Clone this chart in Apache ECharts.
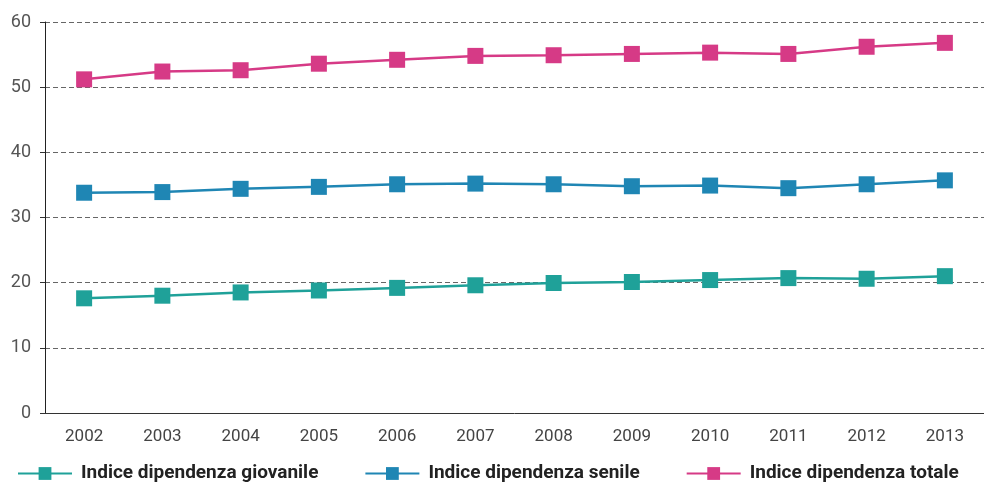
<!DOCTYPE html>
<html>
<head>
<meta charset="utf-8">
<script src="https://cdn.jsdelivr.net/npm/echarts@6/dist/echarts.min.js"></script>
<style>
  html, body { margin: 0; padding: 0; background: #fff; }
  #chart { width: 984px; height: 483px; }
</style>
</head>
<body>
<div id="chart"></div>
<script>
const years = ['2002', '2003', '2004', '2005', '2006', '2007', '2008', '2009', '2010', '2011', '2012', '2013']
const giovanile = [17.6, 18.0, 18.5, 18.8, 19.2, 19.6, 19.95, 20.1, 20.4, 20.7, 20.6, 21.0]
const senile = [33.8, 33.9, 34.4, 34.7, 35.1, 35.2, 35.1, 34.8, 34.9, 34.5, 35.1, 35.7]
const totale = [51.2, 52.4, 52.6, 53.6, 54.2, 54.8, 54.9, 55.1, 55.3, 55.1, 56.2, 56.8]

const font = '"Liberation Sans Narrow", "Roboto", "Noto Sans", sans-serif'

let myChart = echarts.init(document.getElementById('chart'))

function line (name, data, color) {
  return {
    name: name,
    type: 'line',
    data: data,
    symbol: 'rect',
    symbolSize: 16,
    lineStyle: { color: color, width: 2.5 },
    itemStyle: { color: color },
    emphasis: { disabled: true }
  }
}

let option = {
  animation: false,
  grid: { left: 45, right: -6, top: 22, bottom: 70 },
  legend: {
    left: 12,
    top: 459,
    width: 972,
    itemWidth: 54,
    itemHeight: 16,
    itemGap: 46,
    textStyle: { fontFamily: font, fontSize: 19, fontWeight: 'bold', color: '#222', padding: [0, 0, 0, 4] },
    data: ['Indice dipendenza giovanile', 'Indice dipendenza senile', 'Indice dipendenza totale']
  },
  xAxis: {
    type: 'category',
    data: years,
    axisLine: { lineStyle: { color: '#333', width: 1 } },
    axisTick: { alignWithLabel: true, length: 5, lineStyle: { color: '#333' } },
    axisLabel: { fontFamily: font, fontSize: 17, color: '#444', margin: 15 }
  },
  yAxis: {
    type: 'value',
    min: 0,
    max: 60,
    interval: 10,
    axisLine: { show: true, lineStyle: { color: '#222', width: 1 } },
    axisTick: { show: true, length: 5, lineStyle: { color: '#333' } },
    axisLabel: { fontFamily: font, fontSize: 18, color: '#555', margin: 14 },
    splitLine: { lineStyle: { color: '#666', type: [5, 3], width: 1 } }
  },
  series: [
    line('Indice dipendenza giovanile', giovanile, '#1fa199'),
    line('Indice dipendenza senile', senile, '#1f86b4'),
    line('Indice dipendenza totale', totale, '#d63a86')
  ]
}
myChart.setOption(option)
</script>
</body>
</html>
